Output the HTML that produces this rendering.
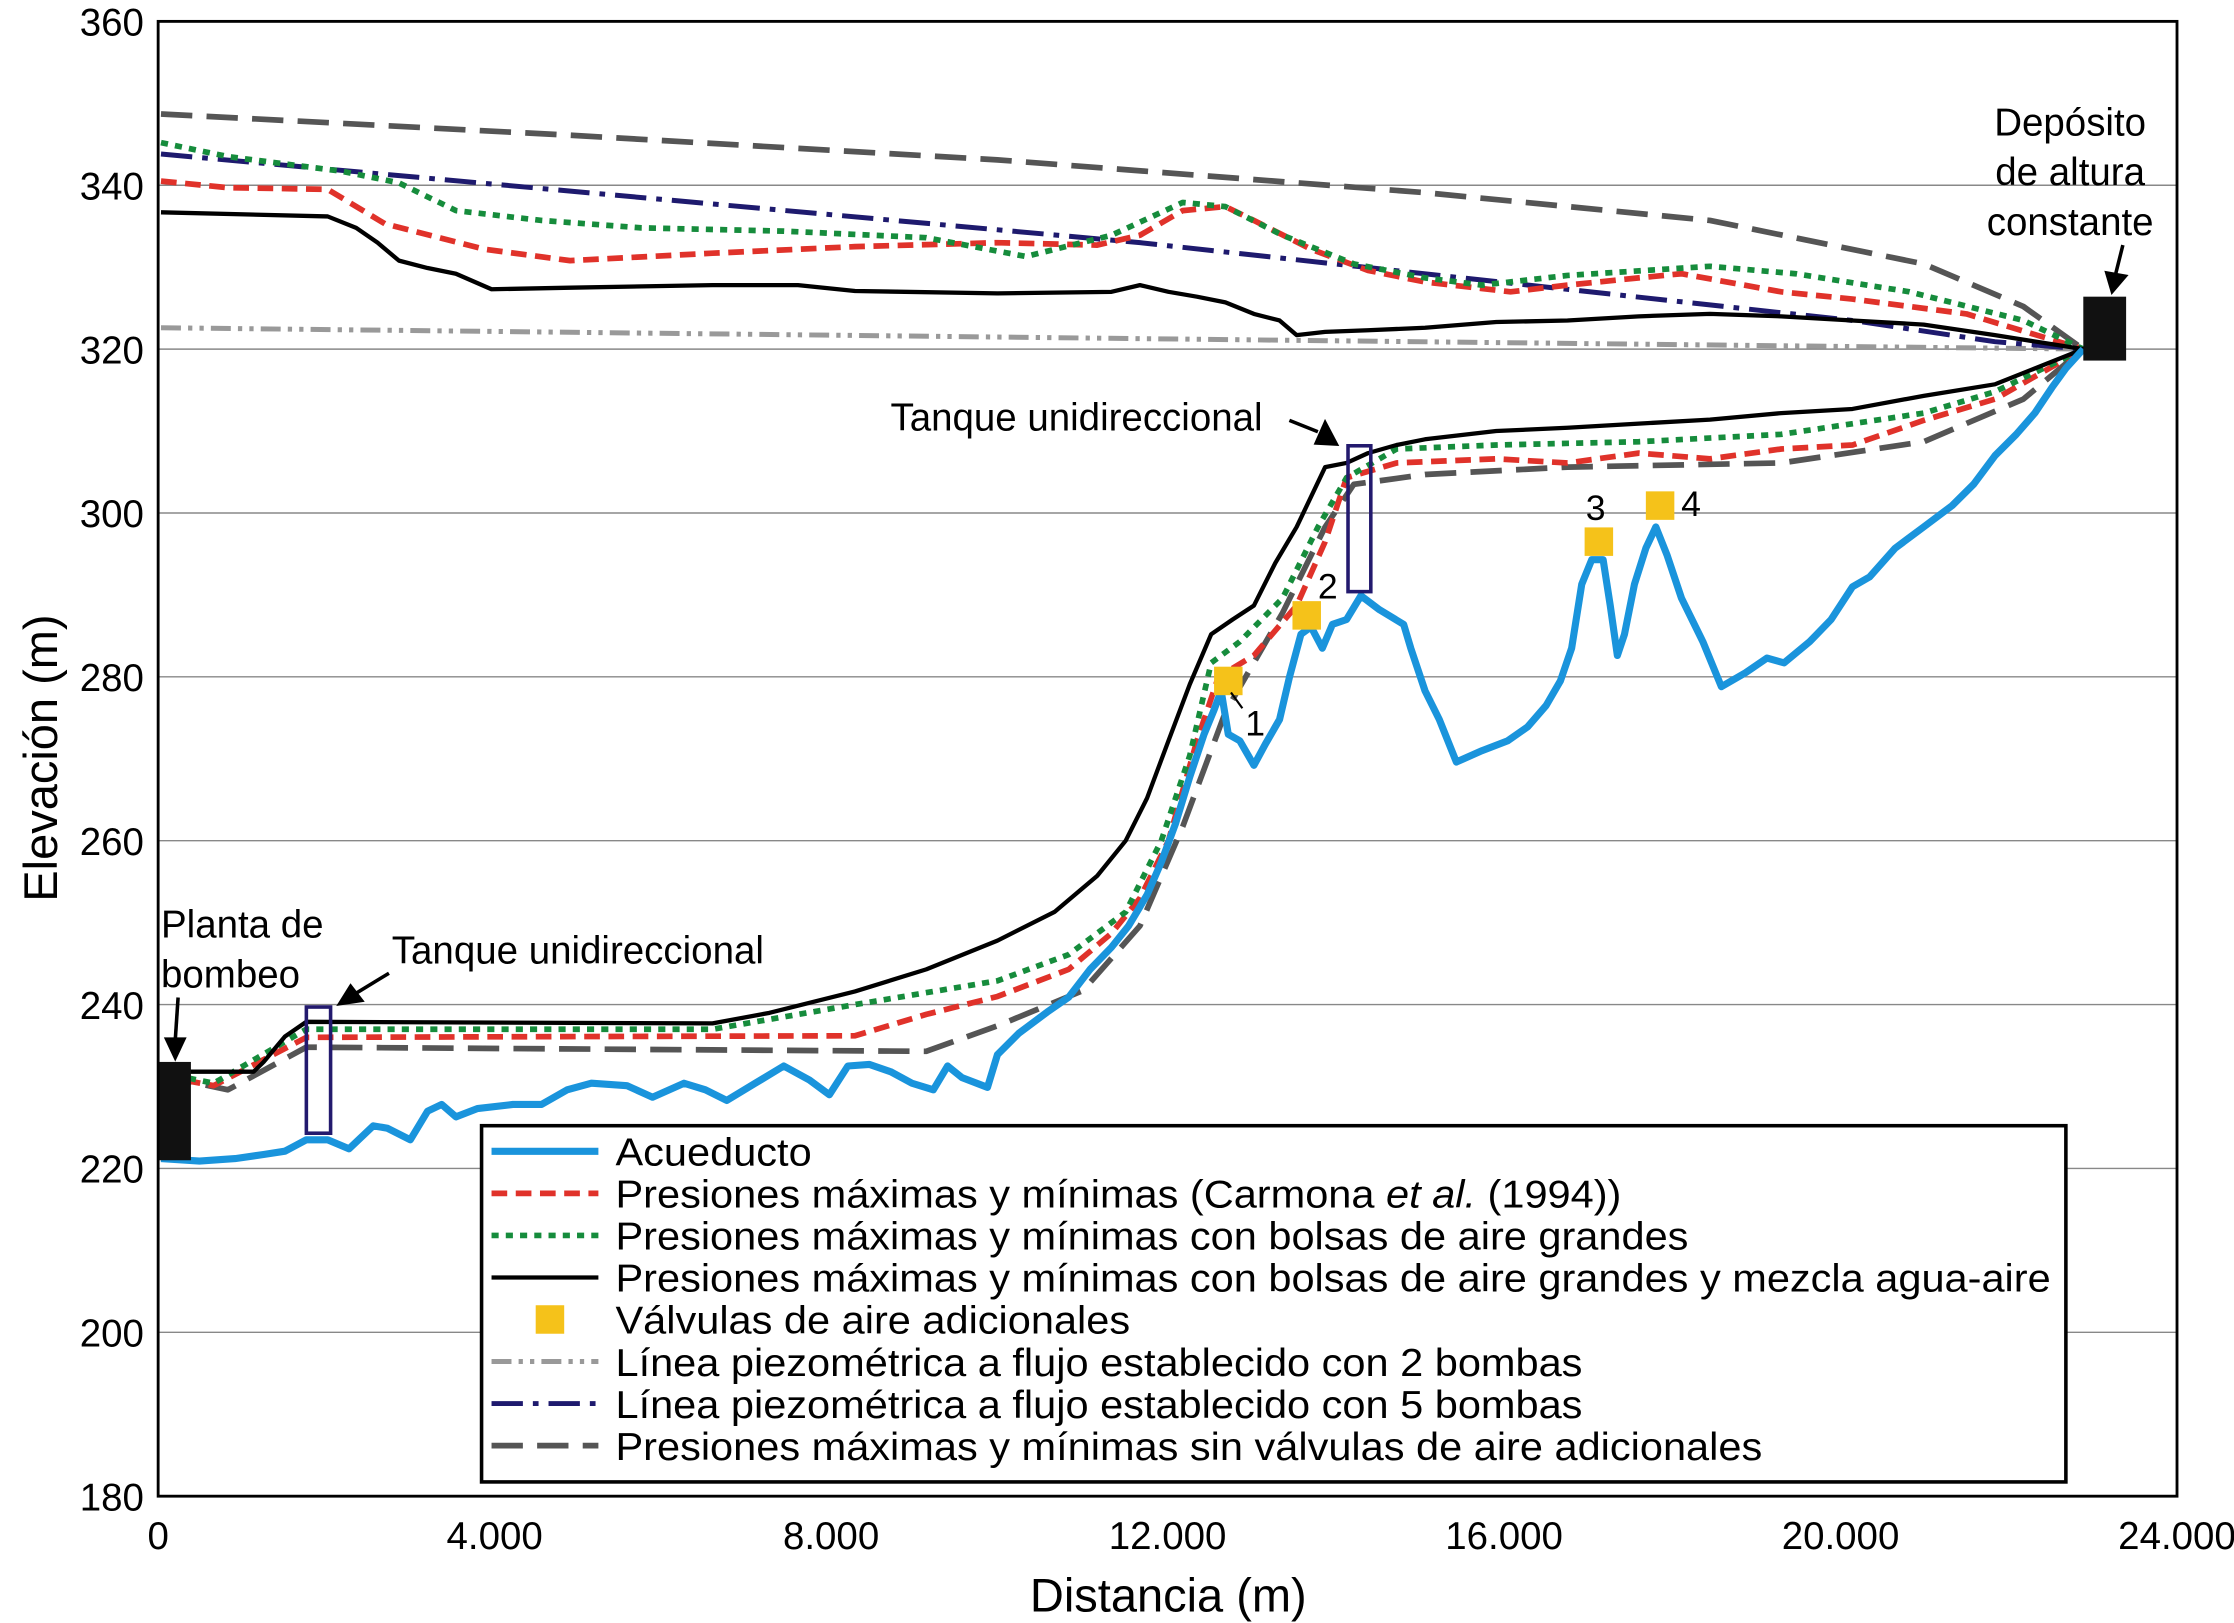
<!DOCTYPE html>
<html><head><meta charset="utf-8"><style>
html,body{margin:0;padding:0;background:#fff;}
svg{display:block;font-family:"Liberation Sans",Arial,sans-serif;}
</style></head><body>
<svg id="chart" width="2234" height="1623" viewBox="0 0 1568 1139" preserveAspectRatio="none" xmlns="http://www.w3.org/2000/svg">
<g id="grid"></g>
<g id="series"></g>
<g id="ticks"></g>
<rect x="111" y="15" width="1417" height="1035" fill="none" stroke="#000" stroke-width="2"/>
<text x="820" y="1131" font-size="33" text-anchor="middle">Distancia (m)</text>
<text transform="translate(40,532) rotate(-90)" font-size="33" text-anchor="middle">Elevación (m)</text>
<g id="annot" font-size="27">
<text x="113" y="658">Planta de</text>
<text x="113" y="693">bombeo</text>
<text x="275" y="676">Tanque unidireccional</text>
<text x="625" y="302">Tanque unidireccional</text>
<text x="1453" y="95" text-anchor="middle">Depósito</text>
<text x="1453" y="130" text-anchor="middle">de altura</text>
<text x="1453" y="165" text-anchor="middle">constante</text>
<text x="874" y="516" font-size="25">1</text>
<text x="925" y="420" font-size="25">2</text>
<text x="1113" y="365" font-size="25">3</text>
<text x="1180" y="362" font-size="25">4</text>
<line x1="125" y1="700" x2="123" y2="730" stroke="#000" stroke-width="2.5"/>
<polygon points="115,728 131,728 123,745" fill="#000"/>
<line x1="273" y1="683" x2="250" y2="697" stroke="#000" stroke-width="2.5"/>
<polygon points="236,706 246,690 256,703" fill="#000"/>
<line x1="905" y1="295" x2="925" y2="303" stroke="#000" stroke-width="2.5"/>
<polygon points="940,313 922,312 930,294" fill="#000"/>
<line x1="1490" y1="172" x2="1485" y2="192" stroke="#000" stroke-width="2.5"/>
<polygon points="1477,190 1494,193 1482,207" fill="#000"/>
<line x1="872" y1="497" x2="864" y2="486" stroke="#000" stroke-width="1.5"/>
</g>
<g id="legend"></g>
</svg>
<script>
const yTicks=[180,200,220,240,260,280,300,320,340,360];
const xTicks=[0,4000,8000,12000,16000,20000,24000];
const xTickLabels=["0","4.000","8.000","12.000","16.000","20.000","24.000"];
const acueductoX=[34,491,915,1254,1508,1762,2016,2270,2558,2727,2998,3202,3371,3540,3795,4218,4557,4862,5150,5573,5878,6251,6505,6759,7098,7437,7742,7979,8199,8453,8707,8961,9215,9385,9554,9859,9978,10232,10571,10825,11079,11333,11536,11756,11926,12095,12265,12434,12553,12637,12722,12858,13027,13163,13332,13450,13586,13705,13840,13959,14128,14298,14518,14806,14891,15060,15230,15433,15738,16043,16280,16500,16670,16804,16923,17042,17178,17262,17347,17432,17550,17686,17804,17940,18109,18363,18583,18871,19125,19329,19633,19888,20142,20345,20650,20989,21328,21582,21836,22090,22310,22513,22683,22886];
const acueductoY=[221.2,220.9,221.2,221.7,222.1,223.5,223.5,222.4,225.2,224.9,223.5,227.0,227.8,226.3,227.3,227.8,227.8,229.6,230.4,230.1,228.7,230.4,229.6,228.3,230.4,232.5,230.8,229.0,232.5,232.7,231.8,230.4,229.6,232.5,231.1,229.9,233.9,236.5,239.1,240.9,244.3,247.0,249.6,253.4,257.4,262.1,267.8,273.0,276.0,278.3,273.0,272.2,269.2,271.8,274.8,280.0,285.2,286.1,283.5,286.4,287.0,289.9,288.2,286.4,283.5,278.3,274.8,269.6,271.0,272.2,273.9,276.5,279.5,283.5,291.3,294.3,294.3,288.7,282.6,285.2,291.3,295.7,298.3,294.8,289.6,284.3,278.8,280.5,282.3,281.7,284.3,287.0,291.0,292.2,295.7,298.3,300.9,303.5,307.0,309.6,312.2,315.3,317.7,320.0];
const blackLowX=[34,1135,1254,1508,1762,6590,7267,8284,9130,9978,10655,11163,11502,11756,12010,12265,12519,12773,13027,13281,13535,13874,14128,14383,14721,15060,15907,16754,17601,18448,19295,20142,20989,21836,22886];
const blackLowY=[231.8,231.8,233.0,236.1,237.9,237.7,239.0,241.6,244.3,247.8,251.3,255.7,260.0,265.2,272.2,279.1,285.2,287.0,288.7,293.9,298.3,305.6,306.1,307.3,308.3,309.0,310.0,310.4,310.9,311.4,312.2,312.7,314.3,315.7,320.0];
const blackHighX=[34,2016,2355,2609,2863,3202,3540,3964,4896,6590,7606,8284,9978,11333,11672,12010,12349,12688,13027,13332,13535,13874,14383,15060,15907,16754,17601,18448,19295,20142,20989,21836,22886];
const blackHighY=[336.7,336.2,334.8,333.0,330.8,329.9,329.2,327.3,327.5,327.8,327.8,327.1,326.8,327.0,327.8,327.0,326.4,325.7,324.3,323.5,321.7,322.1,322.3,322.6,323.3,323.5,324.0,324.3,324.0,323.5,323.0,321.7,320.0];
const redLowX=[34,661,1762,8284,9130,9978,10825,11333,11672,12010,12349,12604,13027,13535,13874,14128,14721,15907,16754,17601,18448,19295,20142,20989,21836,22886];
const redLowY=[231.3,230.1,236.0,236.2,238.8,241.0,244.3,248.7,253.0,260.0,272.2,280.0,282.6,288.7,296.5,304.3,306.1,306.6,306.1,307.3,306.6,307.8,308.3,311.3,313.9,320.0];
const redHighX=[34,830,2016,2695,3880,4896,6590,8284,9978,11163,11672,12180,12688,13027,13705,14383,15060,16077,16754,17601,18109,19295,20142,21497,22886];
const redHighY=[340.5,339.7,339.5,335.3,332.2,330.8,331.7,332.5,333.0,332.7,333.9,336.9,337.4,335.7,332.2,329.6,328.2,327.0,327.8,328.7,329.2,327.0,326.1,324.3,320.0];
const greenLowX=[34,661,1762,6590,8284,9978,10825,11502,11926,12265,12519,12858,13366,13789,14128,14721,15907,17601,19295,20989,21836,22886];
const greenLowY=[231.7,230.4,237.0,237.0,240.0,242.9,246.1,251.3,260.0,270.4,281.7,284.3,289.6,298.3,304.3,307.8,308.3,308.7,309.6,312.2,314.8,320.0];
const greenHighX=[34,830,2185,2863,3540,4557,5743,7437,9130,10317,11333,12180,12688,13366,14213,15060,15738,16754,18448,19464,20819,22174,22886];
const greenHighY=[345.2,343.5,341.7,340.3,336.9,335.7,334.8,334.4,333.6,331.3,333.9,337.9,337.4,333.9,330.4,328.7,327.8,329.0,330.1,329.2,327.0,323.5,320.0];
const grayLowX=[34,830,1762,9130,9978,10994,11672,12180,12688,13366,13874,14213,15060,16754,19295,20989,22174,22886];
const grayLowY=[231.3,229.6,234.8,234.3,237.4,241.7,249.6,261.7,275.7,287.8,298.3,303.5,304.7,305.6,306.1,308.7,313.9,320.0];
const grayHighX=[34,4896,9978,15060,18448,20989,22174,22886];
const grayHighY=[348.7,346.1,343.1,339.1,335.7,330.4,325.2,320.0];
const pump5X=[34,11672,20142,21836,22886];
const pump5Y=[343.8,333.0,323.5,320.9,320.0];
const pump2X=[34,22886];
const pump2Y=[322.6,320.0];
const valveX=[12722,13654,17127,17855];
const valveY=[279.5,287.5,296.5,300.9];

const X0=111,X1=1528,Y0=1050,Y1=15;
function sx(v){return X0+(v-0)/24000*(X1-X0);}
function sy(v){return Y0-(v-180)/180*(Y0-Y1);}
const NS="http://www.w3.org/2000/svg";
function mk(tag,attrs,parent){const e=document.createElementNS(NS,tag);for(const k in attrs)e.setAttribute(k,attrs[k]);parent.appendChild(e);return e;}
const grid=document.getElementById('grid'),ticks=document.getElementById('ticks'),ser=document.getElementById('series'),leg=document.getElementById('legend');
yTicks.forEach(t=>{
  if(t>180 && t<360){const l=mk('line',{x1:X0,x2:X1,y1:sy(t),y2:sy(t),stroke:'#888','stroke-width':1},grid);
  
  }
  const tx=mk('text',{x:101,y:sy(t)+10,'font-size':27,'text-anchor':'end'},ticks);tx.textContent=t;
  
  
});
xTicks.forEach((t,i)=>{
  const tx=mk('text',{x:sx(t),y:1087,'font-size':27,'text-anchor':'middle'},ticks);tx.textContent=xTickLabels[i];
  
  
});
function pts(xs,ys){return xs.map((x,i)=>sx(x).toFixed(1)+','+sy(ys[i]).toFixed(1)).join(' ');}
const styles={
 gray2:{stroke:'#999',w:3.5,dash:'14 5 3 5 3 5'},
 pump5:{stroke:'#1e1a6e',w:3.5,dash:'22 7 4 7'},
 gray:{stroke:'#555',w:4,dash:'22 10'},
 red:{stroke:'#e0322a',w:4,dash:'11 6'},
 green:{stroke:'#168c3c',w:4,dash:'5 5'},
 black:{stroke:'#000',w:3,dash:'none'},
 blue:{stroke:'#1a94dc',w:5,dash:'none'}
};
function line(xs,ys,st,name){
  const p=mk('polyline',{points:pts(xs,ys),fill:'none',stroke:st.stroke,'stroke-width':st.w,'stroke-dasharray':st.dash,'stroke-linejoin':'round'},ser);
  
  
}
line(pump2X,pump2Y,styles.gray2,'line-2-pumps');
line(grayHighX,grayHighY,styles.gray,'no-valves-max');
line(grayLowX,grayLowY,styles.gray,'no-valves-min');
line(pump5X,pump5Y,styles.pump5,'line-5-pumps');
line(redHighX,redHighY,styles.red,'carmona-max');
line(redLowX,redLowY,styles.red,'carmona-min');
line(greenHighX,greenHighY,styles.green,'large-air-max');
line(greenLowX,greenLowY,styles.green,'large-air-min');
line(blackHighX,blackHighY,styles.black,'air-water-max');
line(blackLowX,blackLowY,styles.black,'air-water-min');
line(acueductoX,acueductoY,styles.blue,'aqueduct-profile');
valveX.forEach((v,i)=>{
  const r=mk('rect',{x:sx(v)-10,y:sy(valveY[i])-10,width:20,height:20,fill:'#f5c21a'},ser);
  
  
});
const t1=mk('rect',{x:sx(1762),y:sy(239.7),width:sx(2050)-sx(1762),height:sy(224.3)-sy(239.7),fill:'none',stroke:'#231a6e','stroke-width':2.5},ser);


const t2=mk('rect',{x:sx(14145),y:sy(308.2),width:sx(14416)-sx(14145),height:sy(290.4)-sy(308.2),fill:'none',stroke:'#231a6e','stroke-width':2.5},ser);


const ps=mk('rect',{x:sx(0),y:sy(233),width:23,height:sy(221)-sy(233),fill:'#111'},ser);


const rs=mk('rect',{x:sx(22886),y:sy(326.4),width:sx(23395)-sx(22886),height:sy(318.6)-sy(326.4),fill:'#111'},ser);


const lb=mk('rect',{x:338,y:790,width:1112,height:250,fill:'#fff',stroke:'#000','stroke-width':2.5},leg);


const legendLabels=[["Acueducto"],["Presiones máximas y mínimas (Carmona ","et al."," (1994))"],["Presiones máximas y mínimas con bolsas de aire grandes"],["Presiones máximas y mínimas con bolsas de aire grandes y mezcla agua-aire"],["Válvulas de aire adicionales"],["Línea piezométrica a flujo establecido con 2 bombas"],["Línea piezométrica a flujo establecido con 5 bombas"],["Presiones máximas y mínimas sin válvulas de aire adicionales"]];
const legendStyles=['blue','red','green','black',null,'gray2','pump5','gray'];
legendLabels.forEach((lab,i)=>{
  const y=808+i*29.5;
  const g=mk('g',{},leg);
  
  
  const st=legendStyles[i];
  if(st){mk('line',{x1:345,x2:420,y1:y,y2:y,stroke:styles[st].stroke,'stroke-width':styles[st].w,'stroke-dasharray':styles[st].dash},g);}
  else{mk('rect',{x:376,y:y-10,width:20,height:20,fill:'#f5c21a'},g);}
  const t=mk('text',{x:432,y:y+10,'font-size':27.5,transform:'translate(432,0) scale(1.06,1) translate(-432,0)'},g);
  lab.forEach((part,j)=>{const ts=mk('tspan',{},t);ts.textContent=part;if(j===1)ts.setAttribute('font-style','italic');});
});
</script>
</body></html>
